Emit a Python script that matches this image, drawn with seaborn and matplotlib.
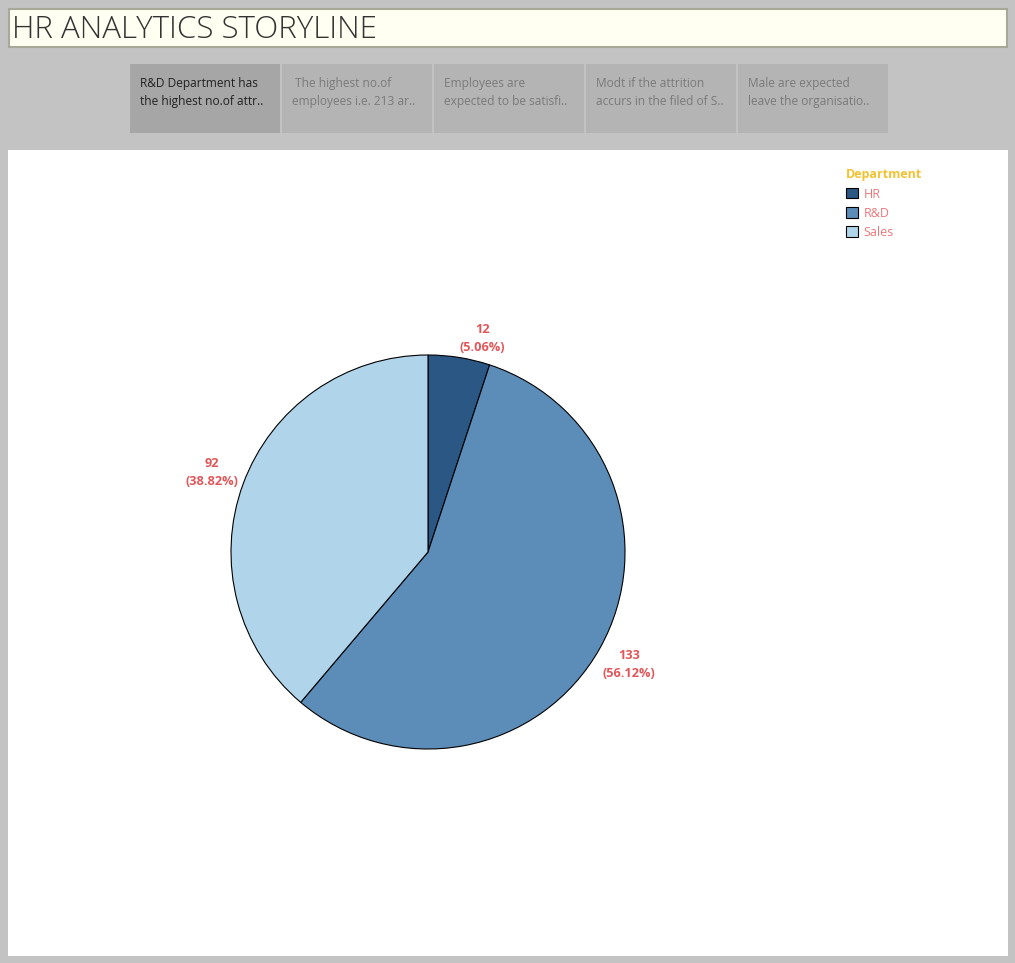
import matplotlib
matplotlib.use("Agg")
import matplotlib.pyplot as plt
from matplotlib.patches import Rectangle
import seaborn as sns

# data
departments = ["HR", "R&D", "Sales"]
attrition_counts = [12, 133, 92]
dept_colors = ["#2a5783", "#5b8db8", "#b0d5ea"]
story_tabs = [
    "R&D Department has\nthe highest no.of attr..",
    " The highest no.of\nemployees i.e. 213 ar..",
    "Employees are\nexpected to be satisfi..",
    "Modt if the attrition\naccurs in the filed of S..",
    "Male are expected\nleave the organisatio..",
]
title_text = "HR ANALYTICS STORYLINE"

sns.set_style("white")
plt.rcParams["font.family"] = ["Open Sans", "DejaVu Sans"]

W, H = 1015, 963
fig = plt.figure(figsize=(W / 100, H / 100), dpi=100)
fig.patch.set_facecolor("#c3c3c3")

# background frame in pixel coordinates
bg = fig.add_axes([0, 0, 1, 1])
bg.set_xlim(0, W)
bg.set_ylim(H, 0)
bg.axis("off")
bg.add_patch(Rectangle((9, 9), 998, 38, facecolor="#fffff2", edgecolor="#a8a898", lw=1.5))
bg.text(12, 30, title_text, fontsize=22.5, color="#333333", va="center", ha="left",
        fontweight="light", fontstretch="expanded")

for i, txt in enumerate(story_tabs):
    x0 = 130 + i * 152
    bg.add_patch(Rectangle((x0, 64), 150, 69, facecolor="#a6a6a6" if i == 0 else "#b4b4b4",
                           edgecolor="none"))
    bg.text(x0 + 10, 92.5, txt, fontsize=8.6, color="#222222" if i == 0 else "#7a7a7a",
            va="center", ha="left", linespacing=1.55)

bg.add_patch(Rectangle((8, 150), 1000, 806, facecolor="white", edgecolor="none"))

# pie
cx, cy, r = 428, 552, 197
span = 1.3
side = 2 * span * r
ax = fig.add_axes([(cx - side / 2) / W, (H - cy - side / 2) / H, side / W, side / H])
total = sum(attrition_counts)
labels = [f"{v}\n({v / total * 100:.2f}%)" for v in attrition_counts]
wedges, texts = ax.pie(attrition_counts, colors=dept_colors, startangle=90, counterclock=False,
                       labels=labels, labeldistance=1.17,
                       wedgeprops=dict(edgecolor="black", linewidth=0.8))
for t in texts:
    t.set_color("#e15759")
    t.set_fontsize(9.2)
    t.set_fontweight("bold")
    t.set_ha("center")
    t.set_va("center")
    t.set_linespacing(1.5)
# the small HR label sits a bit further clockwise in the original
hx, hy = texts[0].get_position()
texts[0].set_position((hx + 0.09, hy - 0.07))
ax.set_xlim(-span, span)
ax.set_ylim(-span, span)
ax.set_aspect("equal")
ax.axis("off")

leg = fig.legend(wedges, departments, title="Department", loc="upper left",
                 bbox_to_anchor=(835 / W, 1 - 157 / H), frameon=False, fontsize=9,
                 title_fontsize=9, handlelength=0.9, handleheight=0.9, handletextpad=0.5,
                 labelspacing=0.5, alignment="left")
leg.get_title().set_color("#f1c232")
leg.get_title().set_fontweight("bold")
for t in leg.get_texts():
    t.set_color("#e8787a")

fig.savefig("out.png", dpi=100, facecolor=fig.get_facecolor())
